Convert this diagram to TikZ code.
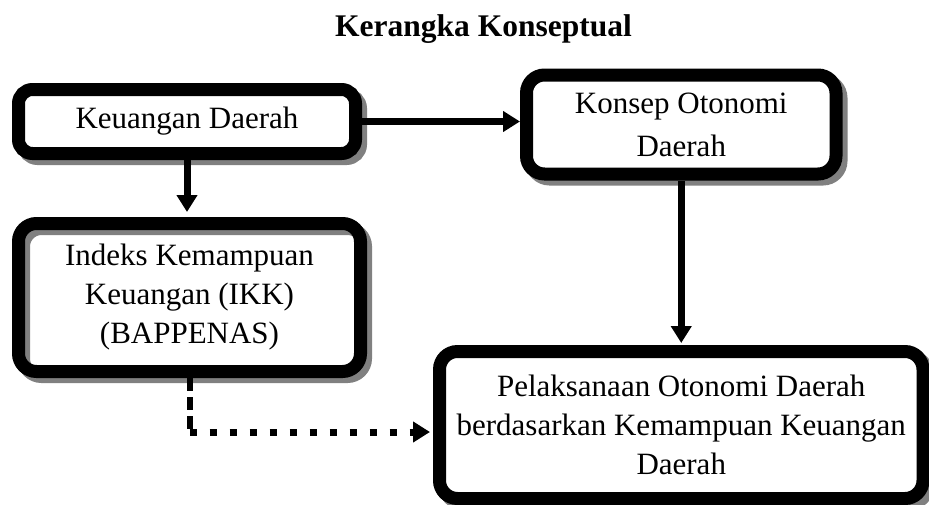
\documentclass[tikz,border=0pt]{standalone}
\usepackage{fontspec}
\setmainfont{Liberation Serif}
\usetikzlibrary{positioning, arrows.meta}

\begin{document}
\begin{tikzpicture}[
        x=1pt, y=-1pt,
        kotak/.style={rectangle, draw, line width=13pt, rounded corners=18pt, align=center,
            inner sep=0pt, font=\fontsize{31}{39}\selectfont},
        bayang/.style={preaction={draw=gray, line width=13pt,
            transform canvas={shift={(5pt,-5pt)}}}},
        panah/.style={line width=7pt, -{Triangle[length=17pt, width=20pt]}},
        node distance=57pt and 158pt
    ]

    \useasboundingbox (0,0) rectangle (929,504);

    \node[anchor=base, font=\fontsize{31.5}{38}\selectfont\bfseries] (judul) at (483.5,36) {Kerangka Konseptual};

    \node[kotak, bayang, fill=white, rounded corners=14pt, minimum width=337pt, minimum height=64pt] (keuangan) at (187,121.5) {Keuangan Daerah};
    \node[kotak, preaction={fill=white}, bayang, minimum width=342pt, minimum height=148pt, below=of keuangan, xshift=2.5pt] (indeks) {Indeks Kemampuan\\Keuangan (IKK)\\(BAPPENAS)};
    \node[kotak, bayang, fill=white, minimum width=309.5pt, minimum height=99pt, right=of keuangan, yshift=-3pt] (konsep) {Konsep Otonomi\\[4pt]Daerah};
    \node[kotak, bayang, fill=white, minimum width=483.5pt, minimum height=147pt, below=164.5pt of konsep] (pelaksanaan) {Pelaksanaan Otonomi Daerah\\berdasarkan Kemampuan Keuangan\\Daerah};

    \draw[panah, shorten >=5pt] (keuangan.south) -- (keuangan.south |- indeks.north);
    \draw[panah] (keuangan.east) -- (keuangan.east -| konsep.west);
    \draw[panah, shorten >=2pt] (konsep.south) -- (konsep.south |- pelaksanaan.north);

    \coordinate (belok) at (189.5,432);
    \draw[line width=6pt, dash pattern=on 13pt off 6pt] (indeks.south) -- (belok);
    \draw[panah, dash pattern=on 7pt off 13pt, shorten >=3pt] (belok) -- (belok -| pelaksanaan.west);

\end{tikzpicture}
\end{document}
